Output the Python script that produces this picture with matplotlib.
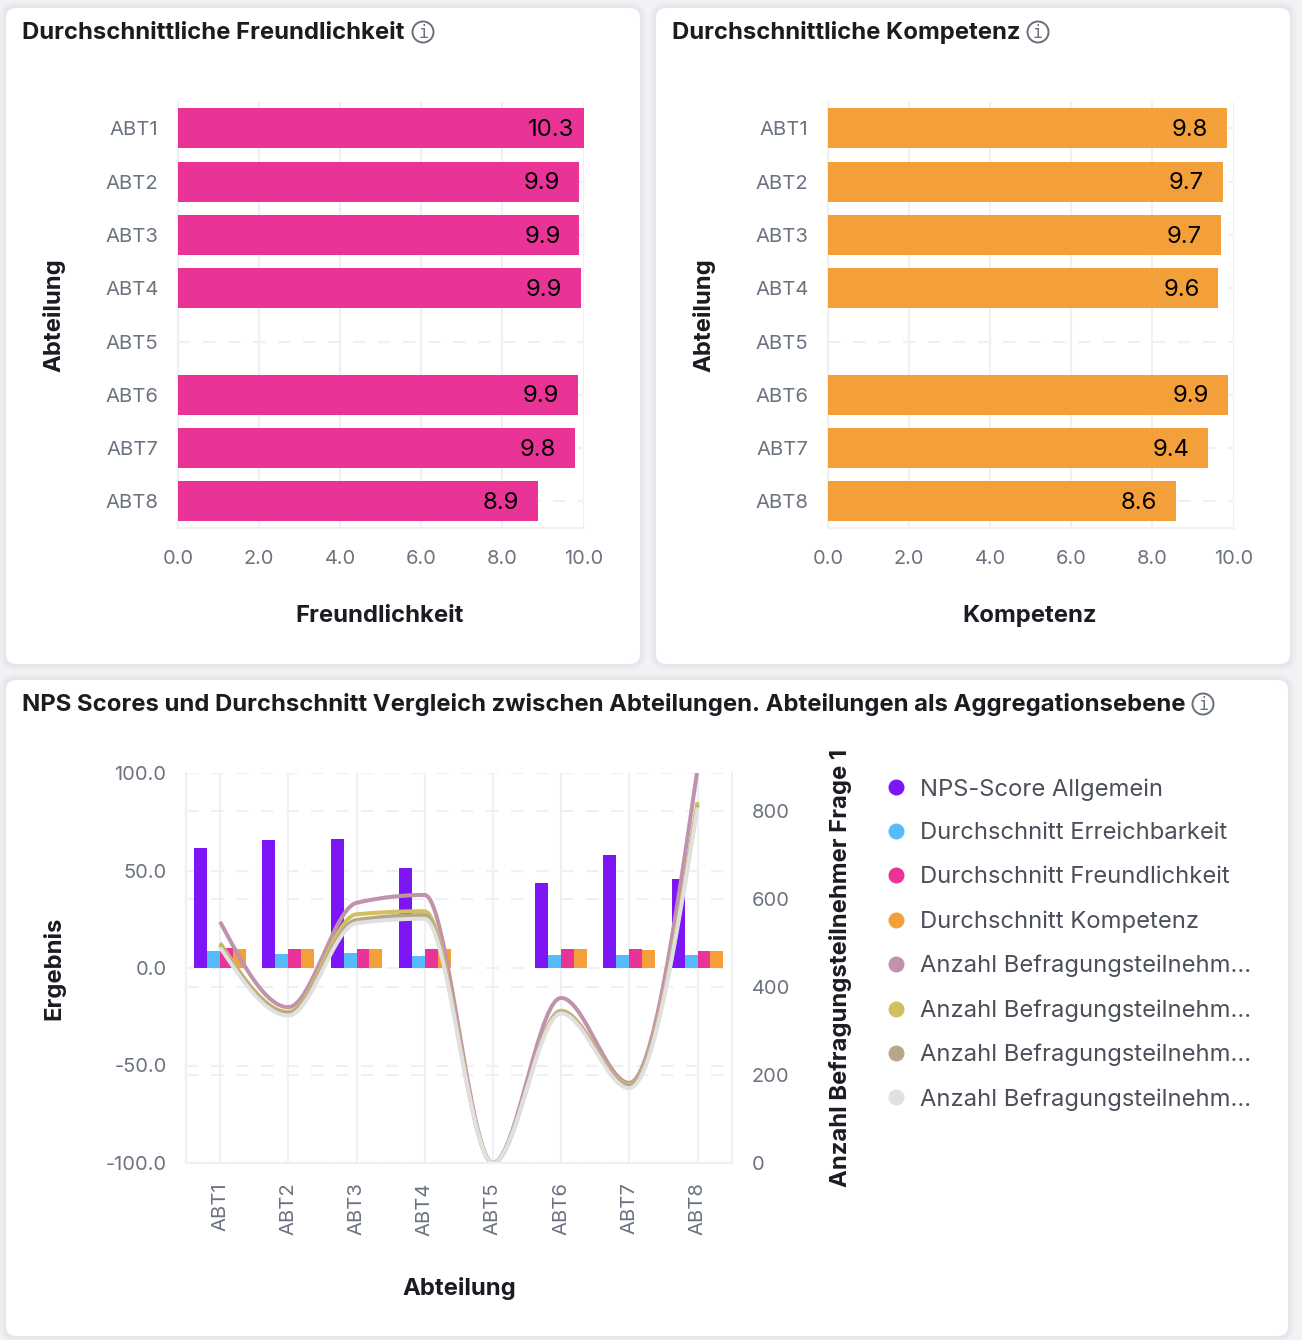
import numpy as np
import matplotlib
matplotlib.use("Agg")
import matplotlib.pyplot as plt
from matplotlib.patches import FancyBboxPatch, Circle
from matplotlib.lines import Line2D

plt.rcParams['font.family'] = ['Inter', 'DejaVu Sans']

categories = ["ABT1", "ABT2", "ABT3", "ABT4", "ABT5", "ABT6", "ABT7", "ABT8"]
freundlichkeit = [10.3, 9.88, 9.90, 9.93, np.nan, 9.86, 9.78, 8.87]
kompetenz = [9.83, 9.73, 9.68, 9.63, np.nan, 9.86, 9.38, 8.59]
nps = [61.5, 65.5, 66, 51.5, np.nan, 43.8, 58, 45.8]
erreichbarkeit = [8.9, 7.2, 7.7, 6.4, np.nan, 6.5, 6.5, 6.5]
teiln_1 = [548, 354, 591, 609, 0, 375, 182, 895]
teiln_2 = [500, 343, 565, 572, 0, 346, 178, 820]
teiln_3 = [495, 340, 552, 563, 0, 343, 175, 813]
teiln_4 = [490, 335, 545, 555, 0, 340, 170, 808]
legend_labels = ["NPS-Score Allgemein", "Durchschnitt Erreichbarkeit", "Durchschnitt Freundlichkeit",
                 "Durchschnitt Kompetenz", "Anzahl Befragungsteilnehm...", "Anzahl Befragungsteilnehm...",
                 "Anzahl Befragungsteilnehm...", "Anzahl Befragungsteilnehm..."]
x_ticks_top = [0, 2, 4, 6, 8, 10]
y_left_ticks = [-100, -50, 0, 50, 100]
y_right_ticks = [0, 200, 400, 600, 800]

W, H = 1302, 1340
PURPLE, BLUE, PINK, ORANGE = "#7c16f5", "#55bbfb", "#ea3396", "#f39f3a"
MAUVE, YELLOW, TAN, GREY = "#c192ad", "#d2bf5f", "#b5a888", "#e0e0e0"
GRID = "#eff0f5"
TICK = "#6b7280"
DARK = "#1a1c21"
LABEL_FS = 17.2


def monotone(y, n=40):
    """Monotone cubic smoothing between the data points (d3 curveMonotoneX)."""
    y = np.asarray(y, float)
    x = np.arange(len(y), dtype=float)
    d = np.diff(y)
    m = np.zeros_like(y)
    for i in range(1, len(y) - 1):
        s0, s1 = d[i - 1], d[i]
        p = (s0 + s1) / 2
        m[i] = (np.sign(s0) + np.sign(s1)) * min(abs(s0), abs(s1), 0.5 * abs(p))
    m[0] = (3 * d[0] - m[1]) / 2
    m[-1] = (3 * d[-1] - m[-2]) / 2
    xs, ys = [], []
    for i in range(len(y) - 1):
        t = np.linspace(0, 1, n)
        h00 = 2 * t**3 - 3 * t**2 + 1
        h10 = t**3 - 2 * t**2 + t
        h01 = -2 * t**3 + 3 * t**2
        h11 = t**3 - t**2
        xs.append(x[i] + t)
        ys.append(h00 * y[i] + h10 * m[i] + h01 * y[i + 1] + h11 * m[i + 1])
    return np.concatenate(xs), np.concatenate(ys)


def axes_px(x0, y0, x1, y1, **kw):
    return fig.add_axes([x0 / W, 1 - y1 / H, (x1 - x0) / W, (y1 - y0) / H], **kw)


fig = plt.figure(figsize=(W / 100, H / 100), dpi=100, facecolor="#f1f2f5")

bg = fig.add_axes([0, 0, 1, 1], zorder=0)
bg.set_xlim(0, W)
bg.set_ylim(H, 0)
bg.axis("off")
for x0, y0, x1, y1 in [(6, 8, 640, 664), (656, 8, 1290, 664), (6, 680, 1288, 1336)]:
    for grow in (6, 4, 2):
        bg.add_patch(FancyBboxPatch((x0 + 10, y0 + 10), x1 - x0 - 20, y1 - y0 - 20,
                                    boxstyle=f"round,pad={10 + grow},rounding_size={10 + grow}",
                                    fc="#8a8f98", ec="none", alpha=0.035))
    bg.add_patch(FancyBboxPatch((x0 + 10, y0 + 10), x1 - x0 - 20, y1 - y0 - 20,
                                boxstyle="round,pad=10,rounding_size=10", fc="white", ec="none"))


def title(x, y, s, icon_x):
    bg.text(x, y + 2, s, fontsize=17.2, fontweight="bold", color=DARK, ha="left", va="center")
    bg.add_patch(Circle((icon_x, y + 1), 10.5, fc="none", ec="#69707d", lw=1.4))
    bg.text(icon_x, y + 1.5, "i", fontsize=12, color="#69707d", ha="center", va="center",
            family="DejaVu Sans Mono")


title(22, 31, "Durchschnittliche Freundlichkeit", 423)
title(672, 31, "Durchschnittliche Kompetenz", 1038)
title(22, 703, "NPS Scores und Durchschnitt Vergleich zwischen Abteilungen. Abteilungen als Aggregationsebene", 1203)


def hbar_panel(x0, x1, values, color, xlabel, ylabel_x, xlabel_cx):
    ax = axes_px(x0, 101.8, x1, 528, zorder=2)
    ax.patch.set_alpha(0)
    y = np.arange(len(categories))
    ax.set_axisbelow(True)
    ax.grid(axis="x", color=GRID, lw=1.5)
    ax.grid(axis="y", color=GRID, lw=1.5, ls=(0, (6, 6)))
    ax.barh(y, values, height=0.75, color=color)
    ax.set_xlim(0, 10)
    ax.set_ylim(len(categories) - 0.5, -0.5)
    ax.set_yticks(y, categories)
    ax.set_xticks(x_ticks_top, [f"{v:.1f}" for v in x_ticks_top])
    ax.tick_params(axis="x", length=0, labelsize=14.4, labelcolor=TICK, pad=16)
    ax.tick_params(axis="y", length=0, labelsize=14.6, labelcolor=TICK, pad=14)
    for s in ("top", "right"):
        ax.spines[s].set_visible(False)
    for s in ("left", "bottom"):
        ax.spines[s].set_color(GRID)
        ax.spines[s].set_linewidth(1.5)
        ax.spines[s].set_zorder(0.5)
    for yi, v in zip(y, values):
        if np.isnan(v):
            continue
        clipped = v > 10
        ax.annotate(f"{v:.1f}", (min(v, 10), yi), xytext=(-6.5 if clipped else -13.6, -1.2),
                    textcoords="offset points", ha="right", va="center", fontsize=17.2, color="black")
    bg.text(ylabel_x, 315, "Abteilung", rotation=90, fontsize=LABEL_FS, fontweight="bold", color=DARK,
            ha="center", va="center")
    bg.text(xlabel_cx, 616, xlabel, fontsize=LABEL_FS, fontweight="bold", color=DARK, ha="center", va="center")


hbar_panel(178, 583.5, freundlichkeit, PINK, "Freundlichkeit", 54, 380)
hbar_panel(828, 1233.5, kompetenz, ORANGE, "Kompetenz", 704, 1030)

# combined chart: grid of the right scale sits beneath the bars, curves above them
BOX = (186, 773, 731.6, 1163)
grid_ax = axes_px(*BOX, zorder=1)
grid_ax.patch.set_alpha(0)
grid_ax.set_ylim(0, 886)
grid_ax.set_xlim(-0.5, 7.5)
grid_ax.set_yticks(y_right_ticks)
grid_ax.set_xticks([])
grid_ax.tick_params(length=0, labelleft=False)
grid_ax.grid(axis="y", color=GRID, lw=1.5, ls=(0, (6, 6)))
for s in grid_ax.spines.values():
    s.set_visible(False)

ax = axes_px(*BOX, zorder=2)
ax.patch.set_alpha(0)
ax2 = ax.twinx()
ax2.patch.set_alpha(0)
ax.set_axisbelow(True)
x = np.arange(len(categories))
bw = 0.19
for i, (vals, col) in enumerate([(nps, PURPLE), (erreichbarkeit, BLUE), (freundlichkeit, PINK), (kompetenz, ORANGE)]):
    ax.bar(x + (i - 1.5) * bw, vals, width=bw, color=col)
ax.set_xlim(-0.5, 7.5)
ax.set_ylim(-100, 100)
ax.set_xticks(x, categories, rotation=90)
ax.set_yticks(y_left_ticks, [f"{v:.1f}" for v in y_left_ticks])
ax.grid(axis="x", color=GRID, lw=1.5)
ax.grid(axis="y", color=GRID, lw=1.5, ls=(0, (6, 6)))
ax.tick_params(axis="y", length=0, labelsize=14.4, labelcolor=TICK, pad=14)
ax.tick_params(axis="x", length=0, labelsize=14.6, labelcolor=TICK, pad=14)
ax2.set_ylim(0, 886)
ax2.set_yticks(y_right_ticks, [str(v) for v in y_right_ticks])
ax2.tick_params(length=0, labelsize=14.4, labelcolor=TICK, pad=14.5)
for a in (ax, ax2):
    for s in a.spines.values():
        s.set_color(GRID)
        s.set_linewidth(1.5)
    a.spines["top"].set_visible(False)
ax.spines["right"].set_visible(False)
ax2.spines["left"].set_visible(False)
ax.set_zorder(2)
ax2.set_zorder(3)
for vals, col in [(teiln_1, MAUVE), (teiln_2, YELLOW), (teiln_3, TAN), (teiln_4, GREY)]:
    xs, ys = monotone(vals)
    ax2.plot(xs, ys, color=col, lw=2.9, solid_capstyle="butt")

bg.text(54, 968, "Ergebnis", rotation=90, fontsize=LABEL_FS, fontweight="bold", color=DARK, ha="center", va="center")
bg.text(459, 1289, "Abteilung", fontsize=LABEL_FS, fontweight="bold", color=DARK, ha="center", va="center")
bg.text(840, 968, "Anzahl Befragungsteilnehmer Frage 1", rotation=90, fontsize=LABEL_FS, fontweight="bold",
        color=DARK, ha="center", va="center")

legend_colors = [PURPLE, BLUE, PINK, ORANGE, MAUVE, YELLOW, TAN, GREY]
handles = [Line2D([], [], ls="none", marker="o", ms=11.5, mfc=c, mec="none", label=l)
           for c, l in zip(legend_colors, legend_labels)]
leg = fig.legend(handles=handles, loc="upper left", bbox_to_anchor=(884 / W, 1 - 778 / H), frameon=False,
                 fontsize=17.1, labelcolor="#4a4f5a", handlelength=1.0, handletextpad=0.52, labelspacing=0.925,
                 borderpad=0, borderaxespad=0)

fig.savefig("out.png", dpi=100, facecolor=fig.get_facecolor())
